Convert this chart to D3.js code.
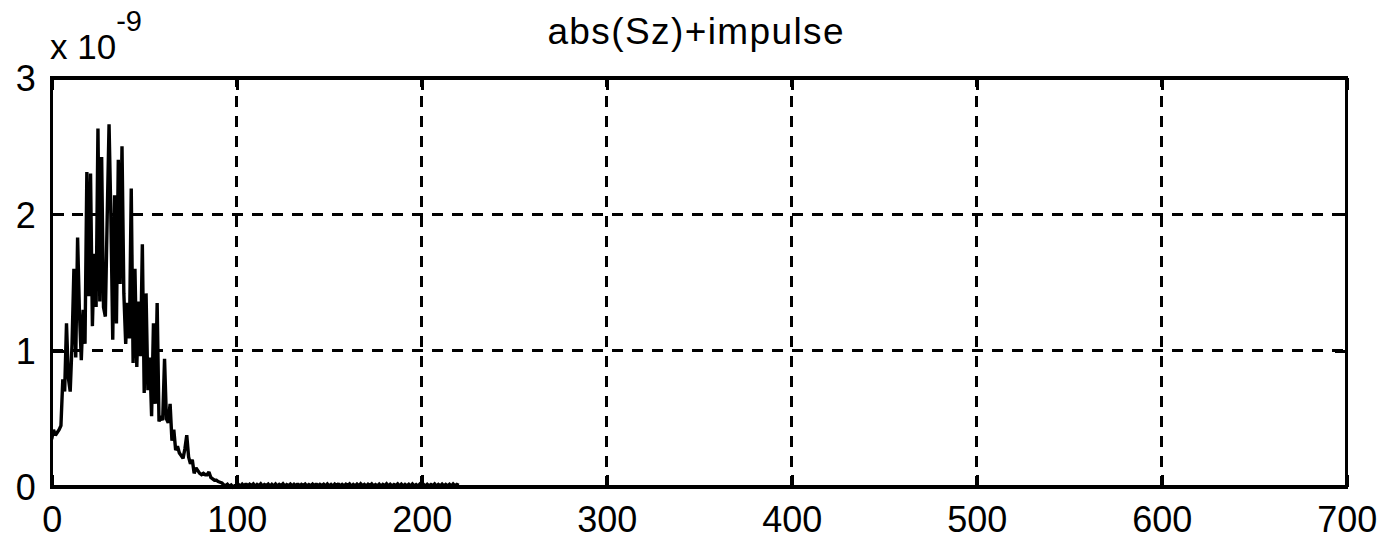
<!DOCTYPE html>
<html>
<head>
<meta charset="utf-8">
<script src="https://cdn.jsdelivr.net/npm/d3@7"></script>
<style>
  html, body { margin: 0; padding: 0; background: #fff; }
  svg { display: block; }
  text { font-family: "Liberation Sans", Arial, sans-serif; fill: #000; }
</style>
</head>
<body>
<svg id="chart" width="1385" height="539"></svg>
<script>
// Spectrum magnitude |Sz| (units of 1e-9), one value per frequency bin 0..220
const magnitude = [
  0.35, 0.42, 0.38, 0.40, 0.42, 0.45, 0.79, 0.70, 1.20, 0.80,
  0.70, 1.05, 1.60, 0.95, 1.83, 1.28, 0.93, 1.30, 1.05, 2.31,
  1.40, 2.30, 1.18, 1.71, 1.32, 2.63, 1.36, 2.42, 1.32, 1.25,
  1.98, 2.66, 1.98, 1.08, 2.14, 1.20, 2.40, 1.49, 2.50, 1.42,
  1.05, 1.35, 1.09, 2.19, 0.91, 1.60, 0.88, 1.36, 0.96, 1.78,
  0.69, 1.42, 0.71, 0.95, 0.52, 1.20, 0.61, 1.35, 0.48, 0.52,
  0.49, 0.94, 0.50, 0.47, 0.61, 0.34, 0.42, 0.27, 0.30, 0.25,
  0.23, 0.21, 0.28, 0.38, 0.22, 0.17, 0.20, 0.10, 0.14, 0.12,
  0.10, 0.09, 0.10, 0.09, 0.09, 0.11, 0.07, 0.06, 0.05, 0.05,
  0.04, 0.035, 0.03, 0.015, 0.01, 0.02, 0.005, 0.015, 0.0, 0.01,
  0.012,
  0.018, 0.006, 0.021, 0.008, 0.024, 0.007, 0.020, 0.010, 0.022, 0.006,
  0.019, 0.009, 0.023, 0.007, 0.018, 0.011, 0.021, 0.006, 0.020, 0.008,
  0.022, 0.007, 0.019, 0.010, 0.023, 0.006, 0.018, 0.009, 0.021, 0.007,
  0.020, 0.008, 0.024, 0.006, 0.019, 0.011, 0.022, 0.007, 0.018, 0.009,
  0.021, 0.006, 0.023, 0.008, 0.019, 0.010, 0.020, 0.007, 0.022, 0.008,
  0.018, 0.006, 0.021, 0.009, 0.024, 0.007, 0.019, 0.008, 0.020, 0.010,
  0.022, 0.006, 0.018, 0.008, 0.021, 0.007, 0.023, 0.009, 0.019, 0.006,
  0.020, 0.010, 0.022, 0.007, 0.018, 0.008, 0.021, 0.006, 0.019, 0.009,
  0.023, 0.007, 0.020, 0.008, 0.018, 0.010, 0.022, 0.006, 0.021, 0.007,
  0.019, 0.009, 0.020, 0.006, 0.022, 0.008, 0.018, 0.007, 0.021, 0.010,
  0.019, 0.006, 0.020, 0.008, 0.018, 0.009, 0.022, 0.007, 0.019, 0.008,
  0.021, 0.007, 0.019, 0.009, 0.020, 0.006, 0.022, 0.008, 0.019, 0.012
];

const xTicks = [0, 100, 200, 300, 400, 500, 600, 700];
const yTicks = [0, 1, 2, 3];
const titleText = "abs(Sz)+impulse";
const exponentBase = "x 10";
const exponentPower = "-9";

const svg = d3.select("#chart");
const plotLeft = 51.7, plotRight = 1346.7, plotTop = 78, plotBottom = 487;

const x = d3.scaleLinear().domain([0, 700]).range([plotLeft, plotRight]);
const y = d3.scaleLinear().domain([0, 3]).range([plotBottom, plotTop]);

// dashed grid
const grid = svg.append("g")
  .attr("stroke", "#000").attr("stroke-width", 3)
  .attr("stroke-dasharray", "11,9").attr("shape-rendering", "crispEdges");
grid.selectAll("line.vx").data(xTicks.slice(1, -1)).join("line")
  .attr("x1", d => x(d)).attr("x2", d => x(d))
  .attr("y1", plotBottom).attr("y2", plotTop);
grid.selectAll("line.hy").data(yTicks.slice(1, -1)).join("line")
  .attr("x1", plotLeft).attr("x2", plotRight)
  .attr("y1", d => y(d)).attr("y2", d => y(d));

// data trace
const line = d3.line().x((d, i) => x(i)).y(d => y(d));
svg.append("path")
  .datum(magnitude)
  .attr("d", line)
  .attr("fill", "none")
  .attr("stroke", "#000")
  .attr("stroke-width", 3.4)
  .attr("stroke-linejoin", "miter")
  .attr("stroke-miterlimit", 1.5);

// axes with inward ticks on all four sides
const tickLen = 12;
const fmt = d3.format("d");
const axB = svg.append("g").attr("transform", `translate(0,${plotBottom})`)
  .call(d3.axisBottom(x).tickValues(xTicks).tickFormat(fmt).tickSizeInner(-tickLen).tickSizeOuter(0));
const axT = svg.append("g").attr("transform", `translate(0,${plotTop})`)
  .call(d3.axisTop(x).tickValues(xTicks).tickSizeInner(-tickLen).tickSizeOuter(0).tickFormat(""));
const axL = svg.append("g").attr("transform", `translate(${plotLeft},0)`)
  .call(d3.axisLeft(y).tickValues(yTicks).tickFormat(fmt).tickSizeInner(-tickLen).tickSizeOuter(0));
const axR = svg.append("g").attr("transform", `translate(${plotRight},0)`)
  .call(d3.axisRight(y).tickValues(yTicks).tickSizeInner(-tickLen).tickSizeOuter(0).tickFormat(""));

[axB, axT, axL, axR].forEach(g => {
  g.select(".domain").remove();
  g.selectAll("line").attr("stroke", "#000").attr("stroke-width", 3).attr("shape-rendering", "crispEdges");
  g.selectAll("text").attr("font-size", 36).attr("fill", "#000")
    .attr("font-family", "'Liberation Sans', Arial, sans-serif");
});
axB.selectAll("text").attr("dy", 0).attr("y", 45);
axL.selectAll("text").attr("dy", "0.36em").attr("x", -16);

// frame
svg.append("rect")
  .attr("x", plotLeft).attr("y", plotTop)
  .attr("width", plotRight - plotLeft).attr("height", plotBottom - plotTop)
  .attr("fill", "none").attr("stroke", "#000").attr("stroke-width", 3.2)
  .attr("shape-rendering", "crispEdges");

// title
svg.append("text")
  .attr("x", (plotLeft + plotRight) / 2 - 3).attr("y", 44)
  .attr("text-anchor", "middle")
  .attr("font-size", 37)
  .attr("letter-spacing", 1.4)
  .text(titleText);

// exponent label
const expo = svg.append("text").attr("x", 50).attr("y", 59).attr("font-size", 35);
expo.append("tspan").text(exponentBase);
expo.append("tspan").attr("dy", -28).attr("font-size", 29).text(exponentPower);
</script>
</body>
</html>
